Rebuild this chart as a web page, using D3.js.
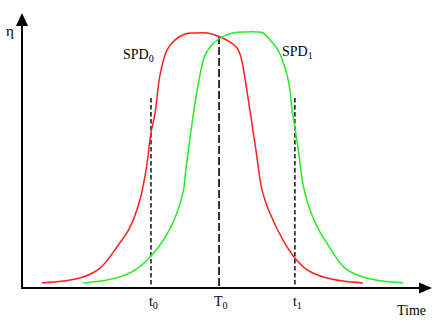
<!DOCTYPE html>
<html>
<head>
<meta charset="utf-8">
<script src="https://cdnjs.cloudflare.com/ajax/libs/d3/7.8.5/d3.min.js"></script>
<style>
	body { margin: 0; background: #fff; }
	text { font-family: "Liberation Serif", "Times New Roman", serif; fill: #000; }
</style>
</head>
<body>
<div id="canvas"></div>
<script>
// SPD0 (red)
var redTime = [5.1, 10.2, 15.1, 19.3, 23.4, 26.6, 29.0, 30.5, 31.7, 32.7, 33.9, 35.6, 37.6, 40.0, 42.4, 45.4, 48.0, 50.5, 52.7, 53.7, 54.6, 55.9, 57.3, 58.8, 60.7, 63.9, 66.8, 69.8, 73.7, 78.5, 83.4];
var redEta = [0.020, 0.027, 0.043, 0.078, 0.161, 0.239, 0.345, 0.463, 0.608, 0.686, 0.835, 0.933, 0.973, 0.996, 1.0, 1.0, 0.988, 0.969, 0.941, 0.902, 0.824, 0.690, 0.541, 0.384, 0.294, 0.188, 0.118, 0.071, 0.043, 0.027, 0.020];

// SPD1 (green)
var greenTime = [15.1, 21.0, 26.6, 31.5, 36.3, 39.5, 40.2, 42.0, 43.2, 44.9, 46.6, 48.5, 51.7, 54.6, 57.6, 59.0, 60.7, 62.7, 63.9, 64.9, 65.6, 66.1, 66.8, 67.8, 68.8, 70.5, 72.4, 74.6, 79.0, 83.4, 88.3, 93.2];
var greenEta = [0.020, 0.031, 0.059, 0.122, 0.231, 0.373, 0.463, 0.678, 0.796, 0.914, 0.953, 0.980, 1.0, 1.004, 1.004, 1.0, 0.973, 0.933, 0.886, 0.835, 0.776, 0.698, 0.631, 0.522, 0.404, 0.306, 0.235, 0.176, 0.078, 0.043, 0.027, 0.020];

// marked instants
var markTime = [31.7, 48.3, 66.8];
var markTop = [0.745, 0.988, 0.745];
var markName = ["t", "T", "t"];
var markSub = ["0", "0", "1"];

var w = 447, h = 323;

var svg = d3.select("#canvas")
	.append("svg")
	.attr("width", w)
	.attr("height", h);

var xScale = d3.scaleLinear()
	.domain([0, 100])
	.range([21, 431]);

var yScale = d3.scaleLinear()
	.domain([0, 1])
	.range([288, 33]);

// axes
svg.append("line")
	.attr("x1", xScale(0) + 1).attr("y1", yScale(0) + 1)
	.attr("x2", xScale(0) + 1).attr("y2", 20)
	.attr("stroke", "#000")
	.attr("stroke-width", 2);

svg.append("path")
	.attr("d", "M" + (xScale(0) + 1) + ",13 L" + (xScale(0) - 5) + ",26 L" + (xScale(0) + 7) + ",26 Z")
	.attr("fill", "#000");

svg.append("line")
	.attr("x1", xScale(0)).attr("y1", yScale(0))
	.attr("x2", xScale(100) - 6).attr("y2", yScale(0))
	.attr("stroke", "#000")
	.attr("stroke-width", 2);

svg.append("path")
	.attr("d", "M" + (xScale(100) + 1) + "," + yScale(0) + " L" + (xScale(100) - 12) + "," + (yScale(0) - 5.5) + " L" + (xScale(100) - 12) + "," + (yScale(0) + 5.5) + " Z")
	.attr("fill", "#000");

// dashed markers
svg.selectAll(".mark")
	.data(markTime)
	.enter()
	.append("line")
	.attr("class", "mark")
	.attr("x1", function(d){ return xScale(d); })
	.attr("x2", function(d){ return xScale(d); })
	.attr("y1", function(d, i){ return yScale(markTop[i]); })
	.attr("y2", yScale(0))
	.attr("stroke", "#111")
	.attr("stroke-width", function(d, i){ return i === 1 ? 1.7 : 1.5; })
	.attr("stroke-dasharray", function(d, i){ return i === 1 ? "8,3" : "4.5,2.5"; });

var line = d3.line()
	.x(function(d){ return xScale(d[0]); })
	.y(function(d){ return yScale(d[1]); })
	.curve(d3.curveCatmullRom.alpha(0.5));

svg.append("path")
	.attr("d", line(d3.zip(redTime, redEta)))
	.attr("fill", "none")
	.attr("stroke", "#ff1f1f")
	.attr("stroke-width", 1.5);

svg.append("path")
	.attr("d", line(d3.zip(greenTime, greenEta)))
	.attr("fill", "none")
	.attr("stroke", "#22ee22")
	.attr("stroke-width", 1.5);

// tick labels
svg.selectAll(".tick")
	.data(markTime)
	.enter()
	.append("text")
	.attr("class", "tick")
	.attr("x", function(d, i){ return xScale(d) - (i === 1 ? 5 : 2); })
	.attr("y", 306)
	.attr("font-size", 14)
	.each(function(d, i){
		d3.select(this).append("tspan").text(markName[i]);
		d3.select(this).append("tspan")
			.attr("dy", 3)
			.attr("font-size", 10)
			.text(markSub[i]);
	});

// series labels
function subLabel(x, y, main, sub){
	var t = svg.append("text")
		.attr("x", x)
		.attr("y", y)
		.attr("font-size", 14);
	t.append("tspan").text(main);
	t.append("tspan").attr("dy", 3).attr("font-size", 10).text(sub);
}
subLabel(123, 59, "SPD", "0");
subLabel(282, 56, "SPD", "1");

svg.append("text")
	.attr("x", 6)
	.attr("y", 36)
	.attr("font-size", 15)
	.text("η");

svg.append("text")
	.attr("x", 397)
	.attr("y", 315)
	.attr("font-size", 14)
	.text("Time");
</script>
</body>
</html>
